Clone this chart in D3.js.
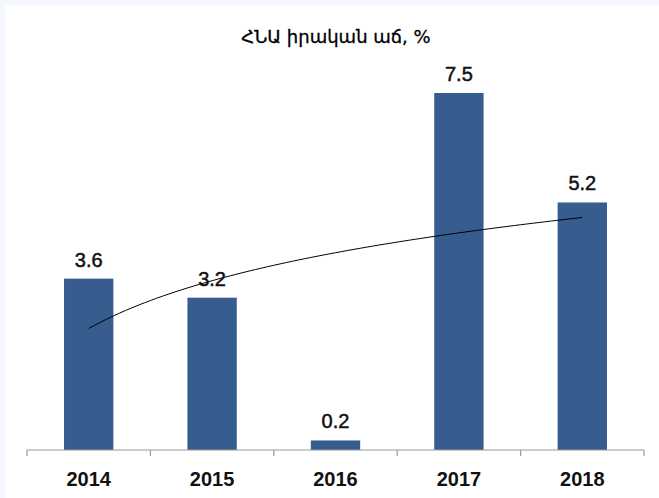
<!DOCTYPE html>
<html>
<head>
<meta charset="utf-8">
<script src="https://cdn.jsdelivr.net/npm/d3@7"></script>
<style>
  html, body { margin: 0; padding: 0; background: #f4f7fd; }
  svg { display: block; }
</style>
</head>
<body>
<svg id="chart" width="659" height="498"></svg>
<script>
var years = ["2014", "2015", "2016", "2017", "2018"];
var growth = [3.6, 3.2, 0.2, 7.5, 5.2];
var valueLabels = ["3.6", "3.2", "0.2", "7.5", "5.2"];
var title = "ՀՆԱ իրական աճ, %";

var svg = d3.select("#chart");

svg.append("rect")
    .attr("x", 5).attr("y", 5)
    .attr("width", 654).attr("height", 493)
    .attr("fill", "#fff");

var left = 27, right = 644, axisY = 450;

var x = d3.scaleBand()
    .domain(years)
    .range([left, right])
    .paddingInner(0.6)
    .paddingOuter(0.3);

var y = d3.scaleLinear()
    .domain([0, 8])
    .range([axisY, axisY - 8 * 47.6]);

svg.append("text")
    .attr("x", 336)
    .attr("y", 43)
    .attr("text-anchor", "middle")
    .style("font-family", "'DejaVu Sans', 'Liberation Sans', sans-serif")
    .style("font-size", "18px")
    .attr("fill", "#000")
    .attr("stroke", "#000")
    .attr("stroke-width", 0.3)
    .text(title);

svg.selectAll(".bar")
    .data(growth)
    .enter().append("rect")
    .attr("class", "bar")
    .attr("x", function(d, i) { return x(years[i]); })
    .attr("y", function(d) { return y(d); })
    .attr("width", x.bandwidth())
    .attr("height", function(d) { return axisY - y(d); })
    .attr("fill", "#375d8e");

// axis: baseline + ticks at category boundaries
var step = x.step();
var xAxis = d3.axisBottom(x).tickSize(0).tickPadding(0).tickFormat("");
var ax = svg.append("g").attr("transform", "translate(0," + axisY + ")").call(xAxis);
ax.select(".domain").remove();
ax.append("line")
    .attr("x1", left).attr("x2", right)
    .attr("stroke", "#9a9a9a").attr("stroke-width", 1.2);
d3.range(years.length + 1).forEach(function(i) {
    var tx = left + i * step;
    ax.append("line")
        .attr("x1", tx).attr("x2", tx)
        .attr("y1", 0).attr("y2", 6)
        .attr("stroke", "#9a9a9a").attr("stroke-width", 1.2);
});

svg.selectAll(".year")
    .data(years)
    .enter().append("text")
    .attr("class", "year")
    .attr("x", function(d) { return x(d) + x.bandwidth() / 2; })
    .attr("y", 486)
    .attr("text-anchor", "middle")
    .style("font-family", "'Liberation Sans', Arial, sans-serif")
    .style("font-weight", "bold")
    .style("font-size", "20px")
    .attr("fill", "#111")
    .text(function(d) { return d; });

// logarithmic trend line fitted to the values (like Excel)
var lx = growth.map(function(d, i) { return Math.log(i + 1); });
var mx = d3.mean(lx), my = d3.mean(growth);
var sxy = d3.sum(lx, function(v, i) { return (v - mx) * (growth[i] - my); });
var sxx = d3.sum(lx, function(v) { return (v - mx) * (v - mx); });
var a = sxy / sxx, b = my - a * mx;
var trend = d3.range(0, 4.001, 0.05).map(function(t) {
    return [t + 1, a * Math.log(t + 1) + b];
});
var firstC = x(years[0]) + x.bandwidth() / 2;
var line = d3.line()
    .x(function(d) { return firstC + (d[0] - 1) * step; })
    .y(function(d) { return y(d[1]); })
    .curve(d3.curveMonotoneX);
svg.append("path")
    .datum(trend)
    .attr("d", line)
    .attr("fill", "none")
    .attr("stroke", "#000")
    .attr("stroke-width", 1);

svg.selectAll(".val")
    .data(growth)
    .enter().append("text")
    .attr("class", "val")
    .attr("x", function(d, i) { return x(years[i]) + x.bandwidth() / 2; })
    .attr("y", function(d) { return y(d) - 12; })
    .attr("text-anchor", "middle")
    .style("font-family", "'Liberation Sans', Arial, sans-serif")
    .style("font-size", "20px")
    .attr("fill", "#111")
    .attr("stroke", "#111")
    .attr("stroke-width", 0.5)
    .text(function(d, i) { return valueLabels[i]; });
</script>
</body>
</html>
